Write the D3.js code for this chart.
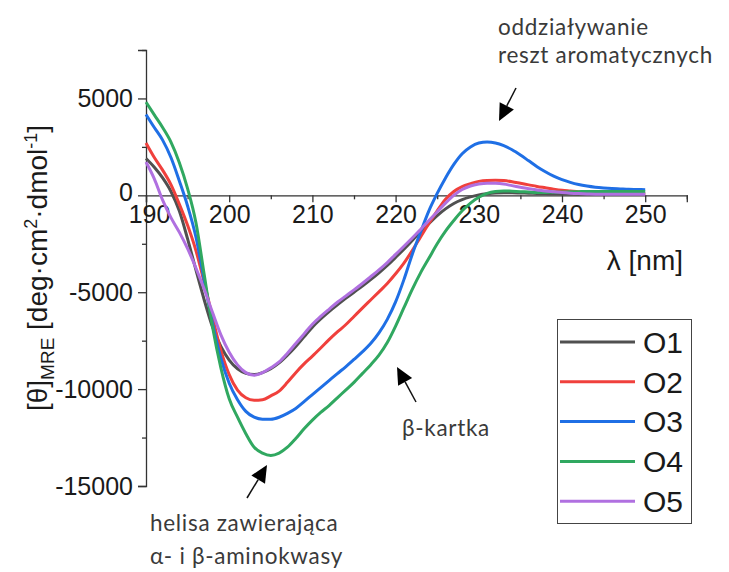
<!DOCTYPE html>
<html><head><meta charset="utf-8">
<script src="https://cdn.jsdelivr.net/npm/d3@7"></script>
<style>body{margin:0;background:#fff}svg{display:block}</style>
</head><body>
<svg id="c" width="729" height="572"></svg>
<script>
const wavelengths = d3.range(190, 251, 1);
const seriesNames = ["O1","O2","O3","O4","O5"];
const seriesColors = ["#505050","#f0403c","#1f6fe5","#30a860","#b070e0"];
const O1 = [1900,1450,900,200,-800,-2250,-3850,-5400,-6800,-7800,-8500,-8950,-9180,-9250,-9150,-8950,-8650,-8250,-7800,-7300,-6800,-6380,-6000,-5650,-5320,-5000,-4680,-4350,-4000,-3620,-3200,-2780,-2330,-1880,-1460,-1050,-700,-420,-220,-80,20,80,120,130,130,120,110,100,90,80,70,65,60,60,55,55,50,50,50,50,50];
const O2 = [2700,1950,1300,550,-450,-1550,-2850,-4500,-6300,-8000,-9250,-10050,-10450,-10580,-10550,-10350,-10100,-9650,-9150,-8700,-8300,-7880,-7450,-7050,-6680,-6250,-5820,-5400,-4980,-4550,-4050,-3500,-2850,-2150,-1450,-800,-200,200,450,600,720,770,780,760,700,620,540,460,390,320,260,220,180,150,130,110,100,100,100,100,100];
const O3 = [4175,3500,2850,1950,750,-550,-2150,-4400,-6600,-8400,-9700,-10550,-11150,-11450,-11550,-11550,-11450,-11250,-11000,-10650,-10280,-9920,-9560,-9200,-8850,-8470,-8080,-7650,-7100,-6400,-5500,-4350,-3050,-1900,-800,100,900,1600,2150,2500,2700,2750,2700,2560,2350,2080,1780,1480,1220,990,810,670,560,480,420,380,350,330,310,300,290];
const O4 = [4810,4150,3500,2750,1700,350,-1400,-4100,-6800,-8900,-10500,-11450,-12300,-13000,-13300,-13420,-13300,-13000,-12550,-12050,-11600,-11200,-10850,-10450,-10050,-9650,-9200,-8750,-8250,-7600,-6750,-5800,-4850,-4000,-3250,-2500,-1850,-1300,-800,-400,-100,100,200,230,210,190,170,150,150,160,170,180,190,200,200,200,200,200,200,200,200];
const O5 = [1720,850,-250,-1150,-1900,-2750,-3750,-4850,-6050,-7200,-8100,-8750,-9150,-9280,-9150,-8900,-8600,-8150,-7650,-7150,-6650,-6250,-5880,-5520,-5200,-4880,-4550,-4200,-3850,-3470,-3050,-2630,-2200,-1760,-1300,-850,-400,0,300,480,580,630,620,580,500,420,340,280,220,180,140,110,90,75,60,55,50,50,50,50,50];
const seriesValues = [O1,O2,O3,O4,O5];
const xMajor = [190,200,210,220,230,240,250];
const xMinor = [195,205,215,225,235,245,255];
const yMajor = [-15000,-10000,-5000,0,5000];
const yMinor = [-12500,-7500,-2500,2500,7500];

const svg = d3.select("#c");
const x = d3.scaleLinear().domain([190,255]).range([146,686.8]);
const y = d3.scaleLinear().domain([-15000,7500]).range([486,50]);
const axisFont = "'Liberation Sans', Arial, sans-serif";
const ink = "#1a1a1a";
const fmt = d => String(d);

// y axis
const yg = svg.append("g").attr("transform", `translate(${x(190)},0)`);
yg.call(d3.axisLeft(y).tickValues(yMajor).tickSize(8).tickPadding(5).tickFormat(fmt));
yg.append("g").call(d3.axisLeft(y).tickValues(yMinor).tickSize(4).tickFormat(""));
yg.selectAll(".domain").attr("stroke", "#333").attr("stroke-width", 1.3);
yg.selectAll(".tick line").attr("stroke", "#333").attr("stroke-width", 1.3);
yg.selectAll("text").attr("font-family", axisFont).attr("font-size", 25).attr("fill", ink);
yg.selectAll("g > .domain").filter((d,i,n)=>n[i].parentNode!==yg.node()).remove();
yg.selectAll(".tick text").filter(d=>d===0).attr("dy","0.2em");

// x axis at y=0
const xg = svg.append("g").attr("transform", `translate(0,${y(0)})`);
xg.call(d3.axisBottom(x).tickValues(xMajor).tickSize(7).tickPadding(3).tickFormat(fmt));
xg.append("g").call(d3.axisBottom(x).tickValues(xMinor).tickSize(4).tickFormat(""));
xg.selectAll(".domain").attr("stroke", "#333").attr("stroke-width", 1.3);
xg.selectAll(".tick line").attr("stroke", "#333").attr("stroke-width", 1.3);
xg.selectAll("text").attr("font-family", axisFont).attr("font-size", 25).attr("fill", ink);
xg.selectAll("g > .domain").filter((d,i,n)=>n[i].parentNode!==xg.node()).remove();
xg.selectAll(".tick text").filter(d=>d===190).attr("dx","0.12em");

// lines
const line = d3.line().x((d,i)=>x(wavelengths[i])).y(d=>y(d)).curve(d3.curveMonotoneX);
seriesValues.forEach((vals,k)=>{
  svg.append("path").attr("d", line(vals)).attr("fill","none")
    .attr("stroke", seriesColors[k]).attr("stroke-width", 3).attr("stroke-linejoin","round");
});

// axis titles
svg.append("text").attr("x", 683).attr("y", 270).attr("text-anchor","end")
  .attr("font-family", axisFont).attr("font-size", 28).attr("fill", ink).text("λ [nm]");

const yt = svg.append("text").attr("transform","translate(47,268) rotate(-90)").attr("text-anchor","middle")
  .attr("font-family", axisFont).attr("font-size", 28).attr("fill", ink);
yt.append("tspan").text("[θ]");
yt.append("tspan").attr("font-size", 19).attr("dy", 7).text("MRE");
yt.append("tspan").attr("dy", -7).text(" [deg·cm");
yt.append("tspan").attr("font-size", 18).attr("dy", -10).text("2");
yt.append("tspan").attr("dy", 10).text("·dmol");
yt.append("tspan").attr("font-size", 18).attr("dy", -10).text("-1");
yt.append("tspan").attr("dy", 10).text("]");

// legend
const lg = svg.append("g");
lg.append("rect").attr("x",557.5).attr("y",319.5).attr("width",134).attr("height",204)
  .attr("fill","#fff").attr("stroke","#444").attr("stroke-width",1);
seriesNames.forEach((n,k)=>{
  const yy = 342 + k*39.8;
  lg.append("line").attr("x1",560).attr("x2",635).attr("y1",yy).attr("y2",yy)
    .attr("stroke",seriesColors[k]).attr("stroke-width",3);
  lg.append("text").attr("x",643).attr("y",yy).attr("dy","0.36em")
    .attr("font-family",axisFont).attr("font-size",30).attr("fill",ink).text(n);
});

// annotations
const annFont = "Lato, 'Open Sans', sans-serif";
const annColor = "#3a3a3a";
function ann(tx, ty, str){
  svg.append("text").attr("x",tx).attr("y",ty).attr("font-family",annFont)
    .attr("font-size",22.5).attr("letter-spacing",0.7).attr("fill",annColor).text(str);
}
ann(498,35,"oddziaływanie");
ann(498,63,"reszt aromatycznych");
ann(402,436,"β-kartka");
ann(150,531,"helisa zawierająca");
ann(150,564,"α- i β-aminokwasy");

function arrow(x1,y1,x2,y2){
  const ang = Math.atan2(y2-y1, x2-x1);
  const L = 17, W = 8;
  const bx = x2 - L*Math.cos(ang), by = y2 - L*Math.sin(ang);
  svg.append("line").attr("x1",x1).attr("y1",y1).attr("x2",bx).attr("y2",by)
    .attr("stroke","#111").attr("stroke-width",1.5);
  const px = -Math.sin(ang)*W, py = Math.cos(ang)*W;
  svg.append("path").attr("d",`M${x2},${y2}L${bx+px},${by+py}L${bx-px},${by-py}Z`).attr("fill","#000");
}
arrow(516,88,499,121);
arrow(416,402,397,367);
arrow(247,498,267,465);
</script>
</body></html>
